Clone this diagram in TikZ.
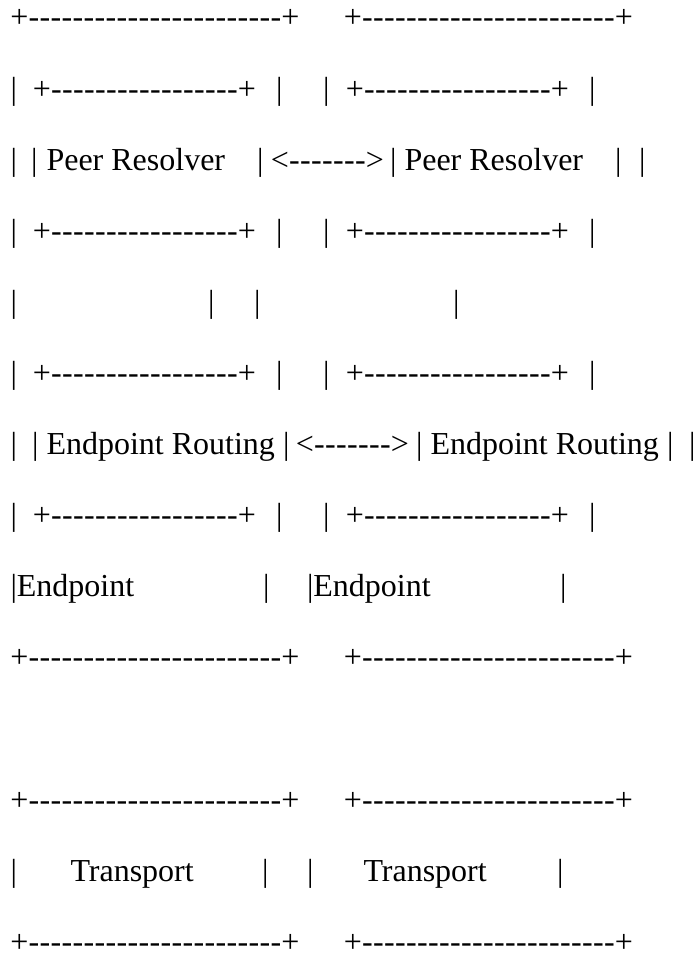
\documentclass[tikz,border=0pt]{standalone}
\usepackage{fontspec}
\setmainfont{Liberation Serif}

% fixed-pitch glyph cells, so that runs of dashes keep their length
\newcommand\hy{\makebox[11pt]{-}}
\newcommand\pl{\makebox[18pt]{+}}
\newcommand\hyrun[1]{\foreach \k in {1,...,#1}{\hy}}
\newcommand\edge[1]{\pl\hyrun{#1}\pl}
\newcommand\twoway{\makebox[18pt]{<}\hyrun{7}\makebox[18pt]{>}}

\begin{document}
\begin{tikzpicture}[x=1pt,y=1pt,
  txt/.style={anchor=base west, inner sep=0pt, outer sep=0pt,
              font=\fontsize{32}{38}\selectfont, text=black}]
\useasboundingbox (0,0) rectangle (698,-955);

% ---- row 1: outer boxes, top edges
\node[txt] (r1a) at (10.5,-28)   {\edge{23}};
\node[txt] (r1b) at (344,-28)    {\edge{23}};

% ---- row 2: inner boxes, top edges
\node[txt] (r2a) at (10.5,-99.1) {|};
\node[txt] (r2b) at (33,-99.1)   {\edge{17}};
\node[txt] (r2c) at (276,-99.1)  {|};
\node[txt] (r2d) at (323,-99.1)  {|};
\node[txt] (r2e) at (346,-99.1)  {\edge{17}};
\node[txt] (r2f) at (589,-99.1)  {|};

% ---- row 3: peer resolvers
\node[txt] (r3a) at (10.5,-170.2) {|};
\node[txt] (r3b) at (31,-170.2)   {|};
\node[txt] (r3c) at (46.5,-170.2) {Peer Resolver};
\node[txt] (r3d) at (257,-170.2)  {|};
\node[txt] (r3e) at (271,-170.2)  {\twoway};
\node[txt] (r3f) at (390,-170.2)  {|};
\node[txt] (r3g) at (404.5,-170.2){Peer Resolver};
\node[txt] (r3h) at (615,-170.2)  {|};
\node[txt] (r3i) at (639,-170.2)  {|};

% ---- row 4: inner boxes, bottom edges
\node[txt] (r4a) at (10.5,-241.3) {|};
\node[txt] (r4b) at (33,-241.3)   {\edge{17}};
\node[txt] (r4c) at (276,-241.3)  {|};
\node[txt] (r4d) at (323,-241.3)  {|};
\node[txt] (r4e) at (346,-241.3)  {\edge{17}};
\node[txt] (r4f) at (589,-241.3)  {|};

% ---- row 5: side walls
\node[txt] (r5a) at (10.5,-312.4) {|};
\node[txt] (r5b) at (208,-312.4)  {|};
\node[txt] (r5c) at (254,-312.4)  {|};
\node[txt] (r5d) at (453,-312.4)  {|};

% ---- row 6: inner boxes, top edges
\node[txt] (r6a) at (10.5,-383.5) {|};
\node[txt] (r6b) at (33,-383.5)   {\edge{17}};
\node[txt] (r6c) at (276,-383.5)  {|};
\node[txt] (r6d) at (323,-383.5)  {|};
\node[txt] (r6e) at (346,-383.5)  {\edge{17}};
\node[txt] (r6f) at (589,-383.5)  {|};

% ---- row 7: endpoint routing
\node[txt] (r7a) at (10.5,-454.6) {|};
\node[txt] (r7b) at (32,-454.6)   {|};
\node[txt] (r7c) at (46.5,-454.6) {Endpoint Routing};
\node[txt] (r7d) at (283,-454.6)  {|};
\node[txt] (r7e) at (296,-454.6)  {\twoway};
\node[txt] (r7f) at (416,-454.6)  {|};
\node[txt] (r7g) at (430.5,-454.6){Endpoint Routing};
\node[txt] (r7h) at (667,-454.6)  {|};
\node[txt] (r7i) at (689,-454.6)  {|};

% ---- row 8: inner boxes, bottom edges
\node[txt] (r8a) at (10.5,-525.7) {|};
\node[txt] (r8b) at (33,-525.7)   {\edge{17}};
\node[txt] (r8c) at (276,-525.7)  {|};
\node[txt] (r8d) at (323,-525.7)  {|};
\node[txt] (r8e) at (346,-525.7)  {\edge{17}};
\node[txt] (r8f) at (589,-525.7)  {|};

% ---- row 9: outer box labels
\node[txt] (r9a) at (10.5,-596.8) {|Endpoint};
\node[txt] (r9b) at (263,-596.8)  {|};
\node[txt] (r9c) at (307,-596.8)  {|Endpoint};
\node[txt] (r9d) at (560,-596.8)  {|};

% ---- row 10: outer boxes, bottom edges
\node[txt] (r10a) at (10.5,-667.9) {\edge{23}};
\node[txt] (r10b) at (344,-667.9)  {\edge{23}};

% ---- rows 12-14: transport boxes
\node[txt] (r12a) at (10.5,-810.1) {\edge{23}};
\node[txt] (r12b) at (344,-810.1)  {\edge{23}};

\node[txt] (r13a) at (10.5,-881.2) {|};
\node[txt] (r13b) at (70.5,-881.2) {Transport};
\node[txt] (r13c) at (262,-881.2)  {|};
\node[txt] (r13d) at (307,-881.2)  {|};
\node[txt] (r13e) at (363.5,-881.2){Transport};
\node[txt] (r13f) at (557,-881.2)  {|};

\node[txt] (r14a) at (10.5,-952.3) {\edge{23}};
\node[txt] (r14b) at (344,-952.3)  {\edge{23}};
\end{tikzpicture}
\end{document}
